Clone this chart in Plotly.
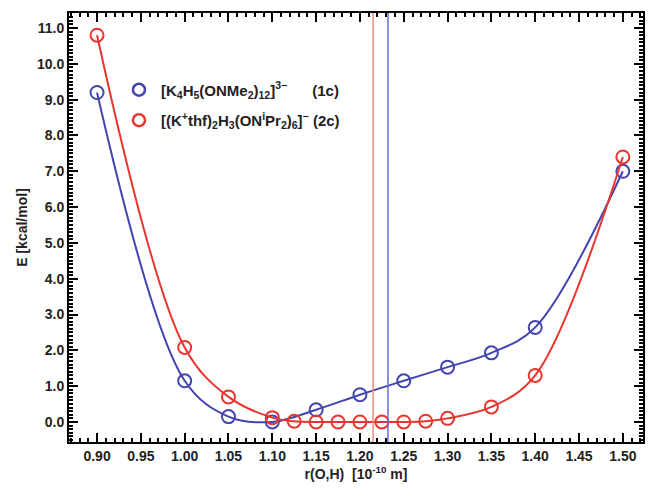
import plotly.graph_objects as go

# ---- data ----
x_1c = [0.90, 1.00, 1.05, 1.10, 1.15, 1.20, 1.25, 1.30, 1.35, 1.40, 1.50]
e_1c = [9.2, 1.15, 0.15, 0.0, 0.34, 0.76, 1.15, 1.53, 1.93, 2.64, 7.0]

x_2c = [0.90, 1.00, 1.05, 1.10, 1.125, 1.15, 1.175, 1.20, 1.225, 1.25, 1.275, 1.30, 1.35, 1.40, 1.50]
e_2c = [10.8, 2.08, 0.7, 0.12, 0.02, 0.0, 0.0, 0.0, 0.0, 0.0, 0.02, 0.1, 0.42, 1.3, 7.4]

vline_1c = 1.232
vline_2c = 1.215

name_1c = "<b>[K<sub>4</sub>H<sub>5</sub>(ONMe<sub>2</sub>)<sub>12</sub>]<sup>3−</sup>      (1c)</b>"
name_2c = "<b>[(K<sup>+</sup>thf)<sub>2</sub>H<sub>3</sub>(ON<sup>i</sup>Pr<sub>2</sub>)<sub>6</sub>]<sup>−</sup> (2c)</b>"

blue = "#4444b0"
red = "#e8352e"
FONT = "Liberation Sans, Arial"

fig = go.Figure()

# vertical lines
fig.add_vline(x=vline_2c, line=dict(color="#f08a84", width=1.5))
fig.add_vline(x=vline_1c, line=dict(color="#6a6ad0", width=1.5))

fig.add_trace(go.Scatter(
    x=x_1c, y=e_1c, mode="lines+markers", showlegend=False,
    line=dict(color=blue, width=2, shape="spline", smoothing=1.0),
    marker=dict(symbol="circle-open", size=13, color=blue, line=dict(width=2)),
))
fig.add_trace(go.Scatter(
    x=x_2c, y=e_2c, mode="lines+markers", showlegend=False,
    line=dict(color=red, width=2, shape="spline", smoothing=1.0),
    marker=dict(symbol="circle-open", size=13, color=red, line=dict(width=2)),
))
# legend entries
fig.add_trace(go.Scatter(
    x=[None], y=[None], mode="markers", name=name_1c, legendgroup="a",
    marker=dict(symbol="circle-open", size=12, color=blue, line=dict(width=2.5)),
))
fig.add_trace(go.Scatter(
    x=[None], y=[None], mode="markers", name=name_2c, legendgroup="b",
    marker=dict(symbol="circle-open", size=12, color=red, line=dict(width=2.5)),
))

axis_common = dict(
    showline=True, linecolor="black", linewidth=2, mirror="ticks",
    ticks="inside", ticklen=9, tickwidth=2, tickcolor="black",
    showgrid=False, zeroline=False, automargin=False,
    tickfont=dict(family=FONT, size=14, color="#222"),
)

fig.update_xaxes(
    range=[0.868, 1.523], tick0=0.90, dtick=0.05, tickformat=".2f",
    minor=dict(ticks="inside", ticklen=4, dtick=0.01, tick0=0.90, tickcolor="black", tickwidth=1.5),
    title=dict(text="<b>r(O,H)  [10<sup>-10</sup> m]</b>", standoff=4,
               font=dict(family=FONT, size=14, color="#222")),
    tickprefix="<b>", ticksuffix="</b>",
    **axis_common,
)
fig.update_yaxes(
    range=[-0.56, 11.42], tick0=0, dtick=1.0, tickformat=".1f",
    minor=dict(ticks="inside", ticklen=4, dtick=0.1, tick0=0, tickcolor="black", tickwidth=1.5),
    title=dict(text="<b>E [kcal/mol]</b>", standoff=6,
               font=dict(family=FONT, size=14, color="#222")),
    tickprefix="<b>", ticksuffix="</b>",
    **axis_common,
)

fig.update_layout(
    width=650, height=491,
    margin=dict(l=69, r=7, t=13, b=49),
    paper_bgcolor="white", plot_bgcolor="white",
    font=dict(family=FONT, size=15, color="#222"),
    legend=dict(x=0.0836, y=0.859, xanchor="left", yanchor="top",
                bgcolor="rgba(0,0,0,0)", borderwidth=0,
                font=dict(family=FONT, size=15, color="#222"),
                itemwidth=34, tracegroupgap=8),
)

fig.write_html(
    "out.html",
    config={"displayModeBar": False},
    post_script="document.body.style.margin='0px';document.body.style.padding='0px';",
)
